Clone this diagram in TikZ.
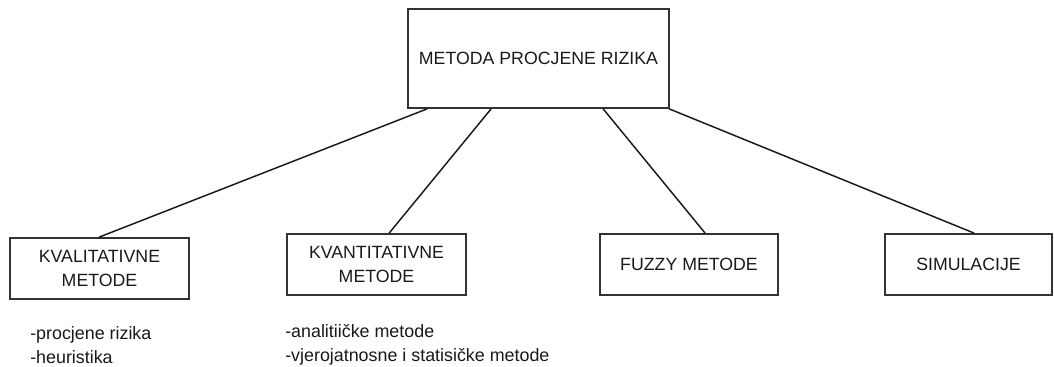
\documentclass[tikz,border=0pt]{standalone}
\usepackage{fontspec}
\setmainfont{Liberation Sans}
\usetikzlibrary{calc}
\begin{document}
\begin{tikzpicture}[x=0.75pt,y=-0.75pt,
  box/.style={draw=black!80,line width=1.3pt,rectangle,inner sep=0pt,align=center,text=black!90,font=\fontsize{13.3}{17.5}\selectfont},
  conn/.style={line width=1.1pt,black!90},
  lst/.style={anchor=north west,align=left,inner sep=0pt,text=black!90,font=\fontsize{13.4}{18}\selectfont}]
\useasboundingbox (0,0) rectangle (1054,367);
\node[box,minimum width=261*0.75pt,minimum height=99*0.75pt] (top) at (538.5,58.5) {METODA PROCJENE RIZIKA};
\node[box,minimum width=179*0.75pt,minimum height=61*0.75pt] (kval) at (99.5,268.5) {KVALITATIVNE\\METODE};
\node[box,minimum width=179*0.75pt,minimum height=61*0.75pt] (kvan) at (376.5,264.5) {KVANTITATIVNE\\METODE};
\node[box,minimum width=178*0.75pt,minimum height=61*0.75pt] (fuzzy) at (689,264.5) {FUZZY METODE};
\node[box,minimum width=167*0.75pt,minimum height=61*0.75pt] (sim) at (968.5,264.5) {SIMULACIJE};
\draw[conn] ($(top.south west)+(20,0)$) -- ($(kval.north west)+(90,0)$);
\draw[conn] ($(top.south west)+(84,0)$) -- ($(kvan.north west)+(103,0)$);
\draw[conn] ($(top.south west)+(196,0)$) -- ($(fuzzy.north west)+(106,0)$);
\draw[conn] ($(top.south west)+(262,0)$) -- ($(sim.north west)+(90,0)$);
\node[lst] (l1) at (30,326) {-procjene rizika\\-heuristika};
\node[lst] (l2) at (285,324) {-analitiičke metode\\-vjerojatnosne i statisičke metode};
\end{tikzpicture}
\end{document}
